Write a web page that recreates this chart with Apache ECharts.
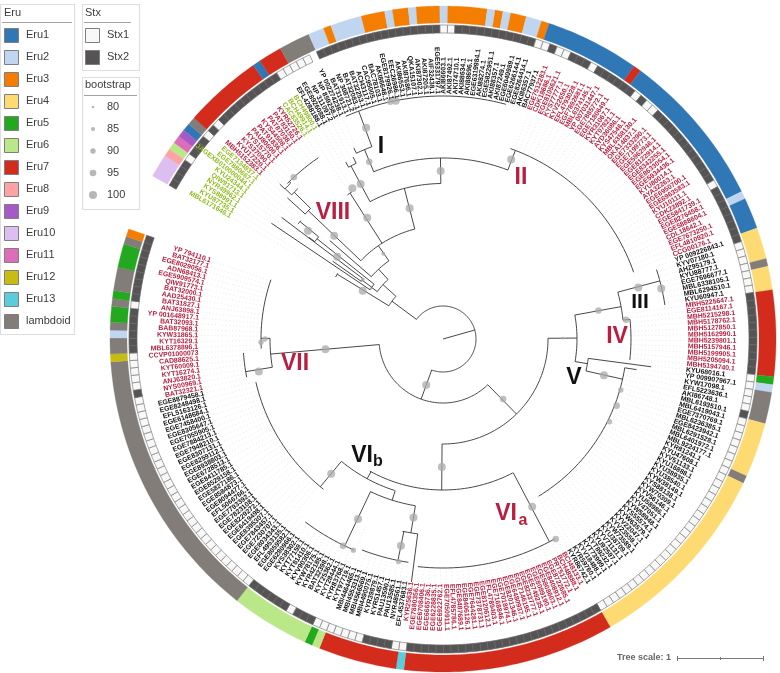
<!DOCTYPE html>
<html><head><meta charset="utf-8"><style>html,body{margin:0;padding:0;background:#fff}#c{width:780px;height:673px}</style>
<script src="https://cdn.jsdelivr.net/npm/echarts@6/dist/echarts.min.js"></script></head>
<body><div id="c"></div>
<script>
// ---------- data ----------
const greenA = ['MBL6171646.1','KYU87735.1','KYS88991.1','NYR49962.1','QIW91713.1','KYU24344.1','JAGEXB010000044.1','EGE7880667.1','EGE7134837.1'];
const redA = ['MBH5152383.1','KYU17220.1','KYS37090.1','KYS15770.1','PAU80600.1','PAT91836.1','KYS44508.1','PAT87038.1','PAT83150.1','KYR52726.1'];
const greenB = ['CAC83526.1','BCH49914.1','BCH49800.1'];
const blackI = ['EFL4288188.1','EGE8926088.1','NP 311097.2','NP 859258.1','YP 002274238.1','BAT31913.1','NP 308721.2','BAT32083.1','BAT32253.1','ACI43117.1','CAC95005.1','BAC78103.1','AKI86648.1','EGE8179926.1','EEC26986.1','AKI86553.1','AKI87686.1','QKA15107.1','AKI87302.1','AKI87205.1','AIF32438.1','EGE5331797.1','AKI86603.1','AKI87492.1','AKI74710.1','AKI88634.1','AKI88696.1','EGE6319984.1','AKI88274.1','EGE5822951.1','AKI88357.1','AKI87249.1','EGE6040989.1','EGE6266144.1','EGE8264414.1','AKI86357.1','BAC77937.1'];
const redII = ['EGE7512283.1','CDK18686.1','EGE8105621.1','KYS77777.1','KYV22650.1','EFL4793028.1','EGF7892681.1','MBL6374145.1','YP 007031447.1','EGE7885772.1','EGE7180649.1','KYR31067.1','KYT07821.1','AYD36086.1','KYS47546.1','MBL6358130.1','OKA14837.1','EGE7333290.1','EGE7199773.1','EGE5962946.1','EGE8122914.1','EGE8342255.1','EGE8633054.1','EGE5934436.1','KYU80014.1','AYA32263.1','EGE6950700.1','EGE6963583.1','KYU10111.1','CDK23892.1','EGE5841739.1','EGE8276458.1','EGE5888604.1','CDL18642.1','EGE7673250.1','EFL4810920.1','CCG00176.1'];
const blackIII = ['YP 009226843.1','KYV07180.1','AHZ95179.1','KYU88777.1','EGE7696677.1','MBL6338105.1','MBL6294510.1','KYU60947.1'];
const redIV = ['MBH5225647.1','EGE8114167.1','MBH5215298.1','MBH5178762.1','MBH5127850.1','MBH5162990.1','MBH5239801.1','MBH5157946.1','MBH5199905.1','MBH5205094.1','MBH5194740.1'];
const blackV = ['KYU68016.1','YP 009907967.1','KYW17098.1','EFL5223636.1','AKI86748.1','MBL6193510.1','MBL6419043.1','EGE7370769.1','MBL6236385.1','EGE8423942.1','MBL6291528.1','MBL6401972.1','MBL9224177.1','KYR81241.1','KYU47608.1','KYV51133.1','KYU16888.1','KYU38935.1','KYU38540.1','KYW38149.1','KYS88138.1','KYW70309.1','KYV56146.1','KYU58986.1','KYV47051.1','KYW58948.1','KYS55574.1','KYW63579.1','KYV22047.1','KYV23559.1','KYW73589.1','KYU38709.1','KYV71131.1','KYU92597.1','KYT89232.1','KYT73999.1','KYV18488.1','KYR59760.1','KYR86742.1'];
const redVIa = ['BCI48133.1','BCH48888.1','PRT51772.1','EGE8722685.1','EGE8408912.1','EGE5808603.1','EGE8089190.1','EGE6749235.1','EGE8233777.1','EGE7146195.1','EGE6480937.1','EGE8201346.1','EGE7018974.1','EGE7168846.1','EFL4789403.1','EGE8120612.1','EGE7378731.1','EGE7644281.1','EGE8406126.1','EGE8487689.1','EFL4785786.1','EGE7050911.1','EGE6922762.1','EGE6228835.1','EGE6665736.1','EGE6708406.1','EGE7880356.1','KYR25636.1'];
const blackVIb = ['EFL4537683.1','NYR48561.1','PAU13585.1','PAU13590.1','KYR51457.1','KYR39879.1','MBI4490075.1','MBI4566569.1','MBI4553313.1','MBI4464465.1','KYT97719.1','KYR83768.1','KYT28444.1','KYT25362.1','BAT32398.1','KYR42185.1','KYW78175.1','KYV90306.1','KYT81410.1','KYT77159.1','KYS38302.1','EGE6280966.1','EGE8059582.1','EFL4953135.1','EGE8034343.1','EGE7230707.1','EGE7843457.1','EGE8395307.1','EGE6419498.1','EGE8229272.1','EGE7823108.1','EGE7793392.1','EFL5066766.1','EGE8094477.1','EGE8584873.1','EGE5827186.1','EGE8529158.1','EGE8411785.1','EGE6728513.1','EGE8938803.1','EGE8259112.1','EGE8307131.1','EGE7948210.1','EGE7884213.1','EGE7055905.1','EGE8305647.1','EGE7458400.1','EGE6148684.1','EFL5163126.1','EGE8248498.1','EGE8879458.1'];
const redVII = ['BAT32321.1','NYS00969.1','ANJ63820.1','KYT16274.1','KYT60009.1','CAD88625.1','CCVP01000073','MBL6378896.1','KYT16329.1','KYW31865.1','BAB87968.1','BAT32093.1','YP 001648917.1','ANJ63898.1','BAT31827.1','AAD25430.1','BAT32000.1','QIW91773.1','EGE5909574.1','ADN68413.1','EGE8029056.1','BAT32177.1','YP 794110.1'];

const eruNames = ['Eru1','Eru2','Eru3','Eru4','Eru5','Eru6','Eru7','Eru8','Eru9','Eru10','Eru11','Eru12','Eru13','lambdoid'];
const eruRuns = [['Eru10',3],['Eru8',1],['Eru6',1],['Eru11',1],['Eru9',1],['Eru1',1],['lambdoid',1],['Eru7',10],['Eru1',1],['Eru7',3],['lambdoid',4],['Eru2',2],['Eru3',1],['Eru2',4],['Eru3',3],['Eru2',1],['Eru3',2],['Eru2',1],['Eru3',3],['Eru2',1],['Eru3',5],['Eru2',1],['Eru3',1],['Eru2',1],['Eru3',2],['Eru2',2],['Eru3',1],['Eru1',12],['Eru7',1],['Eru1',20],['Eru2',1],['Eru1',4],['Eru4',4],['lambdoid',1],['Eru4',3],['Eru7',11],['Eru5',1],['Eru2',1],['lambdoid',4],['Eru4',7],['lambdoid',1],['Eru4',25],['Eru7',27],['Eru13',1],['Eru7',10],['Eru6',1],['Eru5',1],['Eru6',10],['lambdoid',35],['Eru12',1],['lambdoid',2],['Eru2',1],['lambdoid',1],['Eru5',2],['lambdoid',1],['Eru5',1],['lambdoid',3],['Eru5',3],['lambdoid',1],['Eru3',1]];
const stxRuns = [['Stx2',4],['Stx1',1],['Stx2',3],['Stx1',1],['Stx2',1],['Stx1',1],['Stx2',10],['Stx1',5],['none',1],['Stx2',17],['Stx1',2],['Stx2',11],['Stx1',2],['Stx2',1],['Stx1',2],['Stx2',3],['Stx1',1],['Stx2',6],['Stx1',1],['Stx2',1],['Stx1',2],['Stx2',12],['Stx1',1],['Stx2',8],['Stx1',7],['Stx2',11],['Stx1',5],['Stx2',1],['Stx1',33],['Stx2',27],['Stx1',2],['Stx2',4],['Stx1',7],['Stx2',3],['Stx1',1],['Stx2',6],['Stx1',30],['Stx2',1],['Stx1',5],['Stx2',6],['Stx1',1],['Stx2',9]];
// tip depth of each leaf (tree distance units), run-length
const tipRuns = [[124,2],[207,1],[135,1],[202,1],[168,1],[185,1],[150,1],[185,1],[210,1],[225,1],[220,9],[175,2],[202,2],[203,1],[211,2],[243,32],[202,37],[224.5,8],[188,11],[210,1],[196,1],[184,37],[229,28],[245,1],[226,9],[202,1],[229,12],[192,28],[200,6],[182,17]];
// tree: [radius, fromAngle, toAngle]
const treeArcs = [[33,-53.5,200],[63.5,-58.5,-47.8],[81,-54.2,-42.7],[95,-49,-34.7],[113.5,-46.4,-14.4],[155.5,-28,-0.8],[181,-22.5,21],[205,-25,-20.3],[243,-23.6,15],[196,-28.8,-26.3],[202,19.5,70.7],[173,-33.5,-31.8],[124,-60,-58],[186,-47.8,-45.4],[209,-46.4,-44],[218,-46.5,-44.3],[220,-45,-34.5],[88,-56,-51.5],[100,-54.8,-53],[161,-52.8,-50.6],[185,-51.5,-50.2],[64,135.6,265],[173,260.6,270.2],[182,267,289],[200,259,266],[192,218.5,257],[105,89.6,180.5],[134,79.7,99.7],[181,75,84],[224.5,72,81.3],[188,84,96.4],[146.5,97.6,102.6],[184,99,148.7],[151,152.5,209],[229,150.8,186.3],[159,197.7,219.7],[169,189.5,205.5],[229,203,217],[196.5,187.4,191.9],[226,188.8,201]];
// tree: [fromRadius, angle, toRadius]
const treeBranches = [[0,74.2,33],[33,-53.5,63.5],[63.5,-58.5,124],[63.5,-47.8,81],[81,-54.2,88],[88,-56,207],[88,-54,100],[100,-54.8,135],[100,-53,202],[88,-51.5,161],[161,-52.8,168],[161,-50.6,185],[81,-42.7,95],[95,-49,150],[95,-34.7,113.5],[113.5,-46.4,186],[186,-47.8,210],[186,-45.4,209],[209,-46.4,218],[218,-46.5,225],[218,-44.3,220],[113.5,-32.5,173],[113.5,-14.4,155.5],[155.5,-28,196],[196,-28.8,202],[196,-26.3,203],[155.5,-0.8,181],[181,-22.5,205],[205,-25,211],[205,-20.3,243],[181,21,202],[33,200,64],[64,265,173],[173,270.2,182],[173,260.6,200],[64,135.6,105],[105,89.6,134],[134,79.7,181],[181,75,224.5],[181,84,188],[134,99.7,146.5],[146.5,97.6,210],[146.5,102.6,184],[184,99,196],[105,180.5,151],[151,152.3,229],[151,208.5,159],[159,219.7,192],[159,197.5,169],[169,205.4,229],[169,189.4,196.5],[196.5,191.5,226],[196.5,187.4,245]];
// bootstrap nodes: [radius, angle, support]
const treeNodes = [[118,265,100],[49,200,100],[85,135,95],[128,180.5,100],[120,89.6,80],[158,79.6,95],[202,75.2,100],[224,77,100],[184,84,95],[165,102.7,100],[185,106,90],[186,111,95],[186,116.4,90],[190,152,100],[229.6,150.6,95],[199,205.3,100],[229.6,205.8,95],[229.4,203,90],[181,189.4,100],[211,191.5,100],[227,191.3,90],[175,219.7,100],[93.7,-59,100],[88,-55,80],[99.7,-53.6,85],[134,-52.2,100],[173,-51.3,100],[150,-46.5,100],[220,-42.7,95],[104,-35,85],[143,-32,100],[176,-31,100],[135,-14.3,100],[175.5,-28,100],[168,-0.8,100],[192,-22.6,95],[224.7,-20,100],[243,-12.5,95],[243,-11.2,100],[192,20.8,100],[182,269,90],[178,270,90],[187,260,100]];
const bootLevels = [80,85,90,95,100];

// ---------- style ----------
const eruColors = {Eru1:'#2f78b5',Eru2:'#c0d5f0',Eru3:'#f47e02',Eru4:'#fedb72',Eru5:'#23a820',Eru6:'#bae888',Eru7:'#d32b1c',Eru8:'#fda3a4',Eru9:'#a65ac6',Eru10:'#dcbef0',Eru11:'#dd6db9',Eru12:'#c8bb11',Eru13:'#5cccdc',lambdoid:'#827d79'};
const CRIMSON='#b8203f', GREEN='#8fbb1e', BLACK='#111';
const bootSize={80:1.3,85:2,90:2.7,95:3.3,100:4};
const FONT='"Liberation Sans",Arial,sans-serif';
const START=-60.7, SPAN=350;
const R_LABEL=245, ERU=[316,333], STX=[306,314];

const expand=r=>r.flatMap(([v,n])=>Array(n).fill(v));
const names=[...greenA,...redA,...greenB,...blackI,...redII,...blackIII,...redIV,...blackV,...redVIa,...blackVIb,...redVII];
const nameColors=[[GREEN,greenA],[CRIMSON,redA],[GREEN,greenB],[BLACK,blackI],[CRIMSON,redII],[BLACK,blackIII],[CRIMSON,redIV],[BLACK,blackV],[CRIMSON,redVIa],[BLACK,blackVIb],[CRIMSON,redVII]].flatMap(([c,a])=>a.map(()=>c));
const stxLeaf=expand(stxRuns), tipLeaf=expand(tipRuns);
const N=names.length, STEP=SPAN/N;
const leafAngle=i=>START+STEP*(i+.5);
const leafData=names.map((_,i)=>[R_LABEL,leafAngle(i)]);
let pos=0;
const eruBlocks=eruRuns.map(([k,n])=>{const b=[ERU[1],START+STEP*pos,START+STEP*(pos+n)];pos+=n;return b;});

function band(api,r0,r1,a0,a1){
  const n=Math.max(1,Math.ceil((a1-a0)/0.8)),o=[],u=[];
  for(let i=0;i<=n;i++){const a=a0+(a1-a0)*i/n;o.push(api.coord([r1,a]));u.unshift(api.coord([r0,a]));}
  return o.concat(u);
}
function base(name,data,renderItem,z){
  return {type:'custom',name,coordinateSystem:'polar',data,renderItem,silent:true,animation:false,z};
}
const series=[
 base('Eru',eruBlocks,(p,api)=>{
   const c=eruColors[eruRuns[p.dataIndex][0]];
   return {type:'polygon',shape:{points:band(api,ERU[0],ERU[1],api.value(1),api.value(2))},style:{fill:c,stroke:c,lineWidth:.3}};
 },3),
 base('Stx',leafData,(p,api)=>{
   const a=api.value(1),k=stxLeaf[p.dataIndex];
   if(k==='none')return null;
   return {type:'polygon',shape:{points:band(api,STX[0],STX[1],a-STEP/2,a+STEP/2)},
     style:k==='Stx2'?{fill:'#555353',stroke:'#686565',lineWidth:.7}:{fill:'#f8f8f8',stroke:'#808080',lineWidth:.7}};
 },3),
 base('leaders',leafData,(p,api)=>{
   const a=api.value(1),from=api.coord([tipLeaf[p.dataIndex],a]),to=api.coord([R_LABEL-1,a]);
   return {type:'line',shape:{x1:from[0],y1:from[1],x2:to[0],y2:to[1]},style:{stroke:'#d4d4d4',lineWidth:.5,lineDash:[1,2.5]}};
 },1),
 base('arcs',treeArcs,(p,api)=>{
   const r=api.value(0),a0=api.value(1),a1=api.value(2),pts=[];
   const n=Math.max(2,Math.ceil((a1-a0)/1.5));
   for(let i=0;i<=n;i++)pts.push(api.coord([r,a0+(a1-a0)*i/n]));
   return {type:'polyline',shape:{points:pts},style:{stroke:'#333',lineWidth:.9,fill:null}};
 },4),
 base('branches',treeBranches,(p,api)=>{
   const a=api.value(1),s=api.coord([api.value(0),a]),e=api.coord([api.value(2),a]);
   return {type:'line',shape:{x1:s[0],y1:s[1],x2:e[0],y2:e[1]},style:{stroke:'#333',lineWidth:.9}};
 },4),
 base('bootstrap',treeNodes,(p,api)=>{
   const c=api.coord([api.value(0),api.value(1)]);
   return {type:'circle',shape:{cx:c[0],cy:c[1],r:bootSize[api.value(2)]},style:{fill:'#aaaaaa',opacity:.75}};
 },5),
 base('labels',leafData,(p,api)=>{
   const a=api.value(1),c=api.coord([R_LABEL,a]);
   const n=((a%360)+360)%360, right=n<180;
   return {type:'text',x:c[0],y:c[1],rotation:(right?90-n:270-n)*Math.PI/180,
     style:{text:names[p.dataIndex],fill:nameColors[p.dataIndex],font:'bold 6.9px '+FONT,align:right?'left':'right',verticalAlign:'middle'}};
 },6)
];

// ---------- legends and annotations ----------
const g=[];
const txt=(t,x,y,o={})=>g.push({type:'text',x,y,z:10,style:Object.assign({text:t,fill:'#3c3c3c',font:'11px '+FONT,verticalAlign:'middle'},o)});
const box=(x,y,w,h)=>g.push({type:'rect',z:9,shape:{x:x+.5,y:y+.5,width:w,height:h},style:{fill:'#fff',stroke:'#dedede',lineWidth:1.2}});
const rule=(x1,x2,y)=>g.push({type:'line',z:10,shape:{x1,y1:y+.5,x2,y2:y+.5},style:{stroke:'#8a8a8a',lineWidth:.8}});
const sw=(x,y,fill)=>g.push({type:'rect',z:10,shape:{x:x+.5,y:y+.5,width:14,height:14},style:{fill,stroke:'#7f7f7f',lineWidth:1}});
box(0,4,74,330);txt('Eru',4,13);rule(2,72,22);
eruNames.forEach((n,i)=>{sw(4,28+22*i,eruColors[n]);txt(n,26,35+22*i);});
box(82,4,57,66);txt('Stx',85,13);rule(84,131,22);
sw(85,28,'#f8f8f8');txt('Stx1',107,35);sw(85,50,'#555353');txt('Stx2',107,57);
box(82,77,57,132);txt('bootstrap',85,85);rule(84,137,95);
bootLevels.forEach((b,i)=>{
  g.push({type:'circle',z:10,shape:{cx:93,cy:107+22*i,r:bootSize[b]},style:{fill:'#aaaaaa',opacity:.85}});
  txt(String(b),107,107+22*i);
});
const big=(t,x,y,c,sz=23)=>g.push({type:'text',x,y,z:10,style:{text:t,fill:c,font:'bold '+sz+'px '+FONT,align:'center',verticalAlign:'middle'}});
big('I',381,147,BLACK);big('II',521,178,CRIMSON);big('VIII',333,213,CRIMSON);big('VII',295,364,CRIMSON);
big('III',640,302,BLACK,21);big('IV',617,337,CRIMSON);big('V',574,378,BLACK);
big('VI',506,514,CRIMSON);big('a',523,521,CRIMSON,16);big('VI',362,456,BLACK);big('b',378,462,BLACK,16);
txt('Tree scale: 1',617,658,{font:'bold 9px '+FONT,fill:'#666'});
const SC='#777';
[[677,763,658.5,658.5],[677,677,656,661],[720,720,657,660],[763,763,656,661]].forEach(([x1,x2,y1,y2])=>g.push({type:'line',z:10,shape:{x1:x1+.5,y1,x2:x2+.5,y2},style:{stroke:SC,lineWidth:1}}));

const chart=echarts.init(document.getElementById('c'),null,{renderer:'canvas'});
chart.setOption({
  animation:false,backgroundColor:'#fff',
  polar:{center:[443,339],radius:333},
  radiusAxis:{type:'value',min:0,max:333,show:false},
  angleAxis:{type:'value',min:0,max:360,startAngle:90,clockwise:true,show:false},
  series,
  graphic:{elements:g}
});
</script></body></html>
